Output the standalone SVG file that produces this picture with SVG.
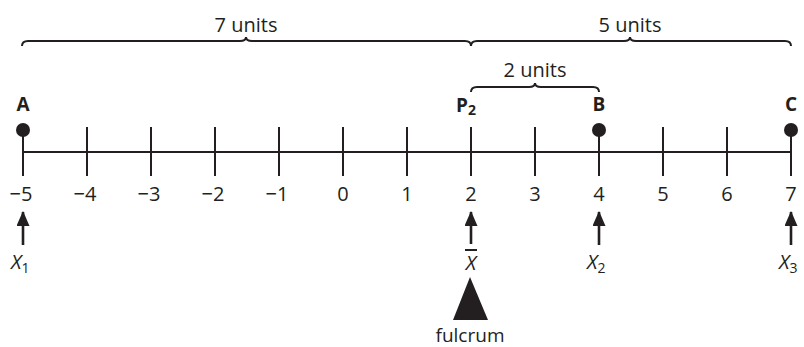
<svg xmlns="http://www.w3.org/2000/svg" width="804" height="347" viewBox="0 0 804 347">
<style>
.t{font-family:"Open Sans","Noto Sans",sans-serif;fill:#231f20}
.num{font-size:20px;text-anchor:middle}
.lbl{font-size:19px;font-weight:bold;text-anchor:middle}
.unit{font-size:20px;text-anchor:middle}
.ln{stroke:#231f20;stroke-width:2;fill:none}
.ar{stroke:#231f20;stroke-width:2.6;fill:none}
.dot{fill:#231f20}
</style>
<defs>
<marker id="ah" viewBox="0 0 15 13" refX="14" refY="6.5" markerWidth="15" markerHeight="13" markerUnits="userSpaceOnUse" orient="auto">
<path d="M0,0 L15,6.5 L0,13 Z" fill="#231f20"/>
</marker>
</defs>
<rect width="804" height="347" fill="#fff"/>
<g id="braces">
<path class="ln" d="M22,46 Q22,41 28,41 L240,41 Q246,41 246,37 Q246,41 252,41 L465,41 Q471,41 471,46"/>
<path class="ln" d="M471,46 Q471,41 477,41 L624,41 Q630,41 630,37 Q630,41 636,41 L785,41 Q791,41 791,46"/>
<path class="ln" d="M471,92 Q471,87 477,87 L529,87 Q535,87 535,83 Q535,87 541,87 L593,87 Q599,87 599,92"/>
<text class="t unit" x="246" y="32">7 units</text>
<text class="t unit" x="630" y="32">5 units</text>
<text class="t unit" x="535" y="77">2 units</text>
</g>
<g id="axis">
<line class="ln" x1="23" y1="152" x2="791" y2="152"/>
<g class="ln">
<line x1="23" y1="130" x2="23" y2="176"/>
<line x1="87" y1="127" x2="87" y2="176"/>
<line x1="151" y1="127" x2="151" y2="176"/>
<line x1="215" y1="127" x2="215" y2="176"/>
<line x1="279" y1="127" x2="279" y2="176"/>
<line x1="343" y1="127" x2="343" y2="176"/>
<line x1="407" y1="127" x2="407" y2="176"/>
<line x1="471" y1="127" x2="471" y2="176"/>
<line x1="535" y1="127" x2="535" y2="176"/>
<line x1="599" y1="130" x2="599" y2="176"/>
<line x1="663" y1="127" x2="663" y2="176"/>
<line x1="727" y1="127" x2="727" y2="176"/>
<line x1="791" y1="130" x2="791" y2="176"/>
</g>
<g class="t num">
<text x="21" y="201">−5</text>
<text x="85" y="201">−4</text>
<text x="149" y="201">−3</text>
<text x="213" y="201">−2</text>
<text x="277" y="201">−1</text>
<text x="343" y="201">0</text>
<text x="407" y="201">1</text>
<text x="471" y="201">2</text>
<text x="535" y="201">3</text>
<text x="599" y="201">4</text>
<text x="663" y="201">5</text>
<text x="727" y="201">6</text>
<text x="791" y="201">7</text>
</g>
</g>
<g id="A">
<circle class="dot" cx="23" cy="130" r="7"/>
<text class="t lbl" x="23" y="111">A</text>
</g>
<g id="P2">
<text class="t lbl" x="466" y="112">P<tspan font-size="14" dy="3">2</tspan></text>
</g>
<g id="B">
<circle class="dot" cx="599" cy="130" r="7"/>
<text class="t lbl" x="599" y="111">B</text>
</g>
<g id="C">
<circle class="dot" cx="791" cy="130" r="7"/>
<text class="t lbl" x="791" y="111">C</text>
</g>
<g id="connectors">
<line class="ar" x1="23" y1="245" x2="23" y2="212" marker-end="url(#ah)"/>
<line class="ar" x1="471" y1="244" x2="471" y2="212" marker-end="url(#ah)"/>
<line class="ar" x1="599" y1="245" x2="599" y2="212" marker-end="url(#ah)"/>
<line class="ar" x1="791" y1="245" x2="791" y2="212" marker-end="url(#ah)"/>
</g>
<g id="X1"><text class="t" font-size="20" font-style="italic" x="11" y="269">X<tspan font-size="14" font-style="normal" dy="4">1</tspan></text></g>
<g id="Xbar">
<line class="ln" x1="465" y1="250" x2="477" y2="250" stroke-width="1.5"/>
<text class="t" font-size="20" font-style="italic" x="471" y="270" text-anchor="middle">X</text>
</g>
<g id="X2"><text class="t" font-size="20" font-style="italic" x="587" y="269">X<tspan font-size="14" font-style="normal" dy="4">2</tspan></text></g>
<g id="X3"><text class="t" font-size="20" font-style="italic" x="779" y="269">X<tspan font-size="14" font-style="normal" dy="4">3</tspan></text></g>
<g id="fulcrum">
<path d="M470,277 L488,320 L453,320 Z" fill="#231f20"/>
<text class="t" font-size="19" x="470" y="342" text-anchor="middle">fulcrum</text>
</g>
</svg>
